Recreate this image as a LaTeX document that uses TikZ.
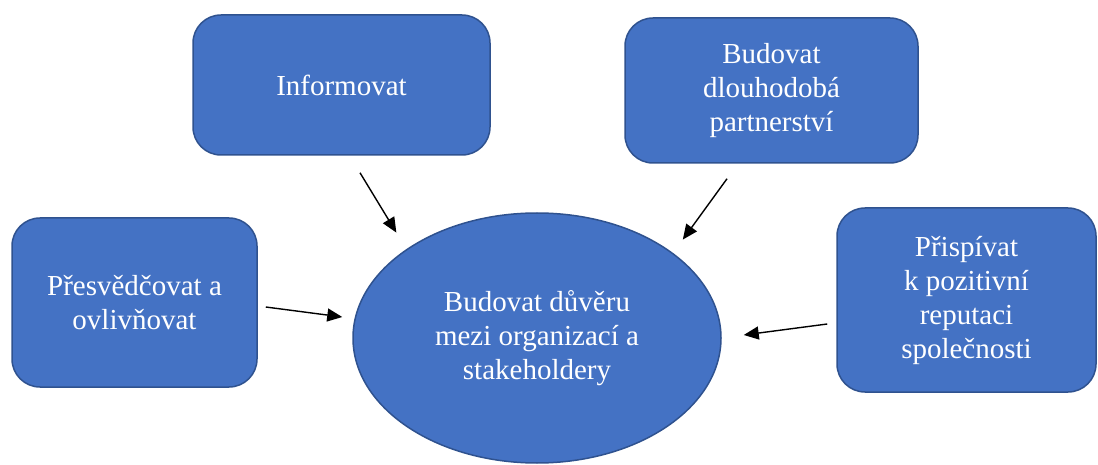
\documentclass[tikz,border=0pt]{standalone}
\usepackage{xcolor}
\usepackage{fontspec}
\setmainfont{Liberation Serif}
\usepackage{tikz}
\usetikzlibrary{shapes.geometric, arrows.meta, calc}

\definecolor{boxblue}{HTML}{4472C4}
\definecolor{boxedge}{HTML}{2F528F}

\begin{document}
\begin{tikzpicture}[x=1pt, y=1pt, >={Triangle[length=15pt, width=13pt]},
    box/.style={draw=boxedge, line width=1.5pt, fill=boxblue, rounded corners=28pt,
        text=white, align=center, inner sep=0pt,
        font=\fontsize{29}{34}\selectfont},
    goalshape/.style={ellipse, draw=boxedge, line width=1.5pt, fill=boxblue,
        text=white, align=center, inner sep=0pt,
        minimum width=368pt, minimum height=250pt,
        font=\fontsize{29}{34}\selectfont},
    conn/.style={->, line width=1.4pt}]
    \useasboundingbox (0,0) rectangle (1098,464);

    % Centre
    \node [goalshape] (trust) at (537,126) {Budovat důvěru\\mezi organizací a\\stakeholdery};

    % Goals around
    \node [box, minimum width=297pt, minimum height=140pt] (inf) at (341.5,379) {Informovat};
    \node [box, minimum width=293pt, minimum height=145pt] (part) at (771.5,373.5) {Budovat\\dlouhodobá\\partnerství};
    \node [box, minimum width=245pt, minimum height=169pt] (pres) at (134.5,161.5) {Přesvědčovat a\\ovlivňovat};
    \node [box, minimum width=259pt, minimum height=184pt] (rep) at (966.5,164) {Přispívat\\k pozitivní\\reputaci\\společnosti};

    % Connections
    \draw [conn] ([shift={(18.5,-17)}]inf.south) -- ([shift={(-16.8,12.1)}]trust.143);
    \draw [conn] ([shift={(-44.5,-15)}]part.south) -- ([shift={(14.6,9.9)}]trust.34);
    \draw [conn] ([shift={(8,-4.5)}]pres.east) -- ([shift={(-10,21)}]trust.west);
    \draw [conn] ([shift={(-9,-24)}]rep.west) -- ([shift={(22,3)}]trust.east);

\end{tikzpicture}
\end{document}
